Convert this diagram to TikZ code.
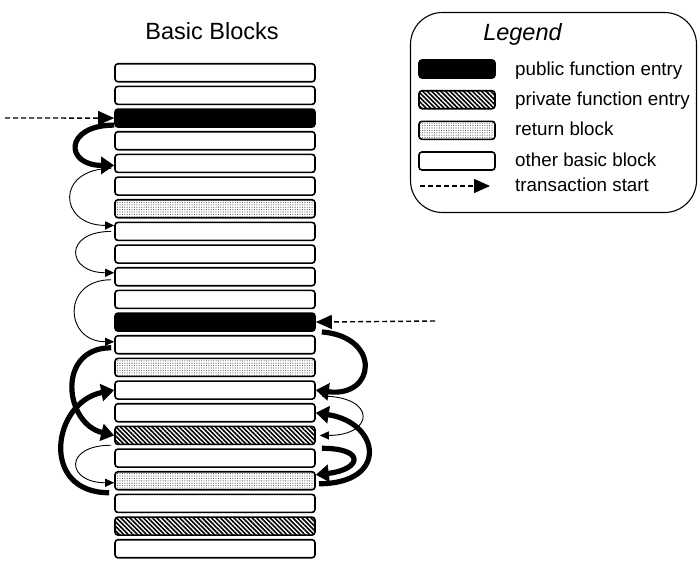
\documentclass[tikz,border=0pt]{standalone}
\usepackage{fontspec}
\setmainfont{Liberation Sans}
\usetikzlibrary{arrows.meta,positioning,patterns.meta}

\begin{document}
\begin{tikzpicture}[
  x=1pt, y=-1pt,
  block/.style={rectangle, draw, line width=1.6pt, rounded corners=3pt, minimum width=200pt, minimum height=18pt, inner sep=0pt},
  othblk/.style={fill=white},
  pubblk/.style={fill=black},
  privblk/.style={pattern={Lines[angle=-45, distance=3.2pt, line width=1.6pt]}},
  retblk/.style={pattern={Dots[distance=2.4pt, radius=0.55pt]}, pattern color=black!70},
  swatch/.style={block, minimum width=76pt},
  legframe/.style={draw, line width=1.1pt, rounded corners=32pt, minimum width=286pt, minimum height=200pt, inner sep=0pt},
  thinarrow/.style={-{Triangle[length=9pt, width=8pt]}, line width=0.9pt},
  thickarrow/.style={-{Triangle[length=13pt, width=17pt]}, line width=5.2pt},
  txarrow/.style={-{Triangle[length=16pt, width=14pt]}, line width=1.4pt, dash pattern=on 5pt off 3pt},
  title/.style={font=\fontsize{23.5pt}{28pt}\selectfont, inner sep=0pt, anchor=base},
  legtext/.style={font=\fontsize{18.8pt}{23pt}\selectfont, inner sep=0pt, anchor=base west}
]
\useasboundingbox (0,0) rectangle (698,560);

% Basic blocks, top to bottom
\node[title] (head) at (212,39.3) {Basic Blocks};
\foreach \kind [count=\i] in {othblk,othblk,pubblk,othblk,othblk,othblk,retblk,othblk,othblk,othblk,othblk,pubblk,othblk,retblk,othblk,othblk,privblk,othblk,retblk,othblk,privblk,othblk}
  \node[block, \kind] (b\i) at (215, {72.75+(\i-1)*22.667}) {};

% Transaction starts
\coordinate (tx1) at (5,118);
\coordinate (tx2) at (435,321);
\draw[txarrow] (tx1) -- (b3.west);
\draw[txarrow] (tx2) -- (b12.east);

% Jumps on the left
\draw[thickarrow] ([yshift=-7pt]b3.west) .. controls +(-50,0) and +(-50,0) .. ([yshift=-2pt]b5.west);
\draw[thinarrow] ([xshift=-3pt, yshift=-5pt]b5.west) .. controls +(-56,0) and +(-56,0) .. ([yshift=6pt]b8.west);
\draw[thinarrow] ([xshift=-3pt]b8.west) .. controls +(-48,0) and +(-48,0) .. ([yshift=4pt]b10.west);
\draw[thinarrow] ([xshift=-3pt, yshift=-3pt]b10.west) .. controls +(-50,0) and +(-50,0) .. ([yshift=3pt]b13.west);
\draw[thickarrow] ([xshift=-3pt, yshift=-3pt]b13.west) .. controls +(-55,0) and +(-50,-12) .. (b17.west);
\draw[thickarrow] ([xshift=-5pt, yshift=-12pt]b19.west) .. controls +(-70,0) and +(-62,12) .. (b15.west);
\draw[thinarrow] ([xshift=-3pt]b17.south west) .. controls +(-48,0) and +(-48,0) .. ([yshift=-2pt]b19.west);

% Jumps on the right
\draw[thickarrow] ([xshift=6pt]b12.south east) .. controls +(60,5) and +(60,8) .. (b15.east);
\draw[thinarrow] ([xshift=6pt, yshift=-6pt]b15.east) .. controls +(55,0) and +(55,0) .. ([xshift=4pt]b17.east);
\draw[thickarrow] ([xshift=3pt, yshift=-3pt]b19.east) .. controls +(70,0) and +(65,10) .. (b16.east);
\draw[thickarrow] ([xshift=6pt]b18.north east) .. controls +(45,0) and +(45,-5) .. ([yshift=6pt]b19.east);

% Legend
\node[legframe] (legend) at (553.5,112.5) {};
\node[title, font=\fontsize{23.5pt}{28pt}\selectfont\itshape] (leghead) at (522.5,40) {Legend};
\node[swatch, pubblk] (k1) at (457,69) {};
\node[swatch, privblk] (k2) at (457,99.7) {};
\node[swatch, retblk] (k3) at (457,130.3) {};
\node[swatch, othblk] (k4) at (457,161) {};
\coordinate (ka) at (420,186);
\coordinate (kb) at (490,186);
\draw[txarrow] (ka) -- (kb);
\node[legtext] (l1) at (515,75.7) {public function entry};
\node[legtext] (l2) at (515,105) {private function entry};
\node[legtext] (l3) at (515,135) {return block};
\node[legtext] (l4) at (515,166) {other basic block};
\node[legtext] (l5) at (515,191.7) {transaction start};

\end{tikzpicture}
\end{document}
